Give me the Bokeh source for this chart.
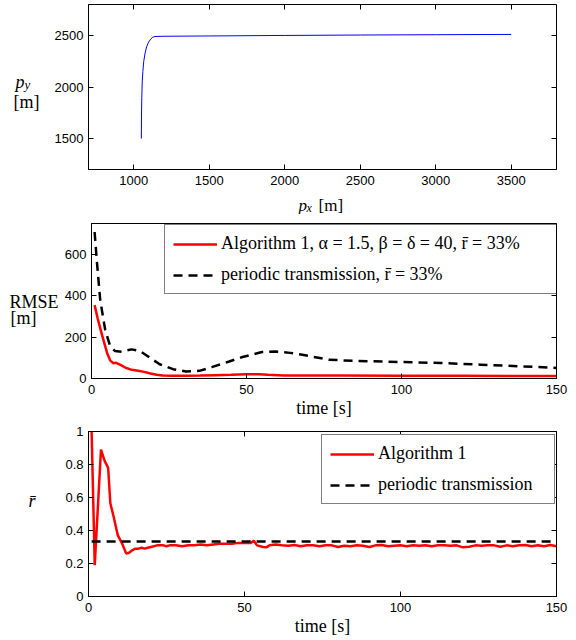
from bokeh.plotting import figure
from bokeh.models import FixedTicker, LinearAxis, Label, Legend, LegendItem, Range1d
from bokeh.layouts import column, row
from bokeh.embed import file_html
from bokeh.resources import INLINE

# ---------------- data ----------------
# trajectory (panel 1)
px = [1050, 1051, 1053, 1056, 1060, 1066, 1075, 1085, 1098, 1112, 1125, 1140, 1200, 1500, 2000, 2500, 3000, 3500]
py = [1500, 1700, 1900, 2050, 2150, 2250, 2330, 2390, 2435, 2465, 2482, 2490, 2492, 2495, 2500, 2504, 2507, 2510]

# RMSE (panel 2)
t_alg_rmse = [1, 2, 3.5, 5, 6, 7, 8, 9.5, 11, 13, 15.5, 17, 19, 21, 23, 26, 30, 35, 40, 45, 50, 54, 57, 62, 70, 80, 100, 120, 150]
rmse_alg = [355, 290, 205, 125, 88, 74, 76, 65, 52, 42, 36, 32, 24, 18, 14, 13, 13, 14, 16, 18, 21, 21, 18, 15, 14, 14, 13, 13, 12]
t_per_rmse = [1, 1.7, 2.8, 4.4, 6, 7.6, 9.7, 12.9, 15.6, 18.8, 22, 26.3, 30.5, 34.8, 39, 44.4, 48.7, 55, 59.3, 64, 68, 76.5, 85, 100, 112.8, 125.6, 138.5, 150]
rmse_per = [709, 573, 381, 237, 157, 133, 130, 141, 133, 101, 69, 45, 34, 37, 56, 82, 104, 128, 131, 124, 115, 91, 85, 80, 75, 67, 59, 51]

# mean transmission rate (panel 3)
t_alg_rate = [1, 2, 4, 5.2, 6.3, 7, 8.1, 9.4, 10.8, 12.1, 13, 14, 15, 16, 17, 18, 19, 20, 22, 24, 25, 26, 28, 30,
              32, 34, 36, 38, 40, 42, 44, 46, 48, 50, 52, 53, 54, 56, 57, 58, 60, 62, 64, 66, 68, 70, 72, 74,
              76, 78, 80, 82, 84, 86, 88, 90, 92, 94, 96, 98, 100, 102, 104, 106, 108, 110, 112, 114, 116,
              118, 120, 122, 124, 126, 128, 130, 132, 134, 136, 138, 140, 142, 144, 146, 148, 150]
rate_alg = [1.0, 0.19, 0.89, 0.82, 0.78, 0.565, 0.48, 0.37, 0.32, 0.26, 0.265, 0.28, 0.29, 0.29, 0.295, 0.29,
            0.295, 0.30, 0.31, 0.31, 0.305, 0.31, 0.31, 0.305, 0.31, 0.31, 0.315, 0.31, 0.315, 0.32, 0.32,
            0.32, 0.325, 0.325, 0.325, 0.338, 0.31, 0.30, 0.298, 0.31, 0.315, 0.31, 0.308, 0.312, 0.305,
            0.31, 0.31, 0.305, 0.31, 0.31, 0.30, 0.308, 0.305, 0.31, 0.308, 0.30, 0.31, 0.312, 0.305, 0.308,
            0.31, 0.305, 0.31, 0.308, 0.31, 0.305, 0.31, 0.31, 0.308, 0.31, 0.298, 0.302, 0.31, 0.308, 0.31,
            0.31, 0.302, 0.31, 0.305, 0.31, 0.312, 0.305, 0.31, 0.305, 0.312, 0.305]
t_per_rate = [1, 150]
rate_per = [0.333, 0.333]

traj_xticks = [1000, 1500, 2000, 2500, 3000, 3500]
traj_yticks = [1500, 2000, 2500]
time_ticks = [0, 50, 100, 150]
rmse_ticks = [0, 200, 400, 600]
rate_ticks = [0, 0.2, 0.4, 0.6, 0.8, 1]
rate_tick_labels = ["0", "0.2", "0.4", "0.6", "0.8", "1"]

label_alg_rmse = "Algorithm 1, \u03b1 = 1.5, \u03b2 = \u03b4 = 40, r\u0304 = 33%"
label_per_rmse = "periodic transmission, r\u0304 = 33%"
label_alg_rate = "Algorithm 1"
label_per_rate = "periodic transmission"

# ---------------- style helpers ----------------
TICK_FONT = "Liberation Sans"
SERIF = "Liberation Serif"
PAGE_W = 576
FRAME_LEFT = 88


def make_fig(left_w, height, top, bottom, xr, yr, xt, yt):
    p = figure(width=PAGE_W - left_w, height=height, x_range=Range1d(*xr), y_range=Range1d(*yr),
               output_backend="svg", toolbar_location=None, title=None,
               min_border_left=FRAME_LEFT - left_w, min_border_right=20,
               min_border_top=top, min_border_bottom=bottom)
    p.outline_line_color = "black"
    p.outline_line_width = 1
    p.outline_line_alpha = 1
    p.grid.grid_line_color = None
    p.background_fill_color = "white"
    p.border_fill_color = "white"
    xax, yax = p.below[0], p.left[0]
    for ax, ticks in ((xax, xt), (yax, yt)):
        ax.ticker = FixedTicker(ticks=ticks)
        ax.major_tick_in = 5
        ax.major_tick_out = 0
        ax.minor_tick_line_color = None
        ax.major_label_text_font = TICK_FONT
        ax.major_label_text_font_size = "13px"
        ax.major_label_text_color = "black"
        ax.axis_line_color = "black"
        ax.major_tick_line_color = "black"
    xax.major_label_standoff = 6
    yax.major_label_standoff = 5
    for side, ticks in (("right", yt), ("above", xt)):
        ax = LinearAxis(ticker=FixedTicker(ticks=ticks), major_tick_in=5, major_tick_out=0,
                        minor_tick_line_color=None, major_label_text_font_size="0px",
                        major_label_text_color=None, major_label_standoff=0,
                        axis_line_color=None, major_tick_line_color="black")
        p.add_layout(ax, side)
    return p, xax, yax


def blank_fig(width, height):
    f = figure(width=width, height=height, x_range=Range1d(0, width), y_range=Range1d(0, height),
               output_backend="svg", toolbar_location=None, title=None,
               x_axis_type=None, y_axis_type=None, min_border=0,
               min_border_left=0, min_border_right=0, min_border_top=0, min_border_bottom=0)
    f.outline_line_color = None
    f.grid.grid_line_color = None
    f.background_fill_color = "white"
    f.border_fill_color = "white"
    return f


def lab(f, text, x, y, size="18px", style="normal"):
    # x, y: left end and baseline of the text, measured from the strip's top-left corner
    f.add_layout(Label(x=x, y=f.height - y, text=text, text_font=SERIF, text_font_size=size,
                       text_font_style=style, text_color="black",
                       text_baseline="alphabetic", text_align="left"))


def style_time_axis(ax):
    ax.axis_label = "time [s]"
    ax.axis_label_text_font = SERIF
    ax.axis_label_text_font_size = "18px"
    ax.axis_label_text_font_style = "normal"
    ax.axis_label_text_color = "black"
    ax.axis_label_standoff = 1


def make_legend(items, loc, label_width):
    return Legend(items=items, location=loc, border_line_color="black", border_line_width=1,
                  background_fill_color="white", background_fill_alpha=1, padding=8, spacing=10,
                  glyph_width=44, glyph_height=20, label_height=20, label_width=label_width,
                  label_standoff=4, label_text_font=SERIF, label_text_font_size="18px",
                  label_text_color="black", margin=0)


# ---------------- panel 1 (page y 0..190) ----------------
W1 = 45
p1, p1x, p1y = make_fig(W1, 190, 4, 21, (700, 3800), (1200, 2800), traj_xticks, traj_yticks)
p1.line(px, py, line_color="blue", line_width=1)
L1 = blank_fig(W1, 190)
lab(L1, "p", 15, 89, style="italic")
lab(L1, "y", 24, 92, size="13px", style="italic")
lab(L1, "[m]", 13, 112)

# strip under panel 1 with the x-axis title (page y 190..214)
SX = blank_fig(PAGE_W, 24)
lab(SX, "p", 298, 204.5 - 190, size="17px", style="italic")
lab(SX, "x", 306, 207 - 190, size="12px", style="italic")
lab(SX, "[m]", 318, 204.5 - 190, size="17px")

# ---------------- panel 2 (page y 214..420) ----------------
W2 = 61
p2, p2x, p2y = make_fig(W2, 206, 9, 41, (0, 150), (0, 750), time_ticks, rmse_ticks)
r_alg = p2.line(t_alg_rmse, rmse_alg, line_color="red", line_width=2.5)
r_per = p2.line(t_per_rmse, rmse_per, line_color="black", line_width=2.5, line_dash="9 6")
style_time_axis(p2x)
p2.add_layout(make_legend([LegendItem(label=label_alg_rmse, renderers=[r_alg]),
                           LegendItem(label=label_per_rmse, renderers=[r_per])], (73, 84), 327))
L2 = blank_fig(W2, 206)
lab(L2, "RMSE", 9, 317.7 - 214)
lab(L2, "[m]", 10, 339 - 214)

# ---------------- panel 3 (page y 420..638) ----------------
W3 = 45
p3, p3x, p3y = make_fig(W3, 218, 11, 42, (0, 150), (0, 1), time_ticks, rate_ticks)
p3y.major_label_overrides = {tv: tl for tv, tl in zip(rate_ticks, rate_tick_labels)}
q_alg = p3.line(t_alg_rate, rate_alg, line_color="red", line_width=2.5)
q_per = p3.line(t_per_rate, rate_per, line_color="black", line_width=2.5, line_dash="9 6")
style_time_axis(p3x)
p3.add_layout(make_legend([LegendItem(label=label_alg_rate, renderers=[q_alg]),
                           LegendItem(label=label_per_rate, renderers=[q_per])], (233, 92), 168))
L3 = blank_fig(W3, 218)
lab(L3, "r\u0304", 28, 512 - 420, style="italic")

layout = column(row(L1, p1), SX, row(L2, p2), row(L3, p3))
open("out.html", "w").write(file_html(layout, INLINE))
